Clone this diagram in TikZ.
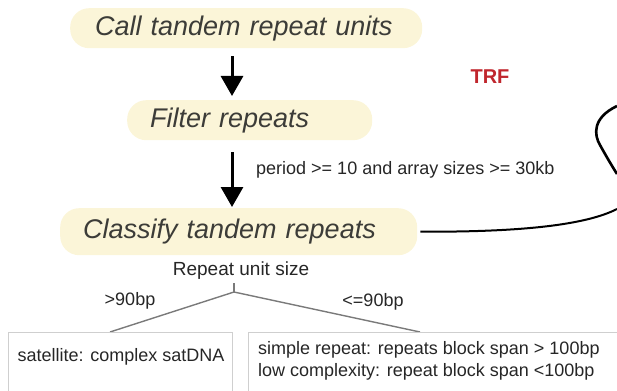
\documentclass[tikz,border=0pt]{standalone}
\usepackage{fontspec}
\setmainfont{Liberation Sans}
\usetikzlibrary{arrows.meta}
\definecolor{pillfill}{HTML}{FBF5D8}
\definecolor{pilltext}{HTML}{3C3C38}
\definecolor{trfred}{HTML}{C0262D}
\definecolor{treegray}{HTML}{7A7A7A}
\definecolor{boxgray}{HTML}{CFCFCF}
\tikzset{
  pill/.style={fill=pillfill, draw=none, rounded corners=19pt, inner xsep=0pt, inner ysep=0pt,
    align=left, text=pilltext, font=\fontsize{27}{30}\selectfont\itshape, anchor=north west},
  flowarrow/.style={line width=3pt, -{Triangle[width=22pt,length=20pt]}},
  small/.style={font=\fontsize{18}{22}\selectfont, text=black!85, inner sep=0pt},
  treeline/.style={draw=treegray, line width=1.4pt},
  resbox/.style={draw=boxgray, line width=1pt, anchor=north west, inner sep=0pt},
}
\begin{document}
\begin{tikzpicture}[x=1pt,y=-1pt]
\useasboundingbox (0,0) rectangle (617,390);
% pills
\node[pill, minimum width=352pt, minimum height=40pt, text width=352pt] (call) at (70,8) {\hspace*{25pt}Call tandem repeat units};
\node[pill, minimum width=245pt, minimum height=40pt, text width=245pt] (filter) at (127,100) {\hspace*{23pt}Filter repeats};
\node[pill, minimum width=357pt, minimum height=47pt, text width=357pt] (classify) at (60,208) {\hspace*{23pt}Classify tandem repeats};
% arrows
\coordinate (a1s) at (232,56);
\coordinate (a1e) at (232,96);
\draw[flowarrow] (call.south -| a1s) ++(0,8) -- (a1e);
\coordinate (a2e) at (232,207);
\draw[flowarrow] (filter.south -| a1s) ++(0,12) -- (a2e);
\node[small, anchor=west] (cond) at (256,170) {period >= 10 and array sizes >= 30kb};
% TRF
\node[font=\fontsize{20}{24}\selectfont\bfseries, text=trfred, inner sep=0pt] (trf) at (490,77) {TRF};
% connector to right
\coordinate (rightend) at (617,209);
\draw[line width=2pt] (classify.east) ++(3,0) coordinate (cst) -- (cst)
  .. controls (500,232) and (580,228) .. (rightend);
\draw[line width=2.6pt] (617,106) .. controls (592,118) and (594,135) .. (600,145)
  .. controls (606,156) and (612,166) .. (617,174);
% tree
\node[small, font=\fontsize{19}{22}\selectfont] (rus) at (241,271) {Repeat unit size};
\coordinate (apex) at (234,292);
\coordinate (lend) at (110,332);
\coordinate (rend) at (420,332);
\draw[treeline] (234,283) -- (apex);
\draw[treeline] (lend) -- (apex) -- (rend);
\node[small] (gt) at (130,301) {>90bp};
\node[small] (le) at (373,302) {<=90bp};
% result boxes
\node[resbox, minimum width=224pt, minimum height=70pt] (satbox) at (8,332) {};
\node[small] (sat) at (121,357) {satellite: complex satDNA};
\node[resbox, minimum width=380pt, minimum height=70pt] (simbox) at (248,332) {};
\node[small, anchor=north west, align=left, font=\fontsize{18}{22}\selectfont] (simtxt) at (258,341) {simple repeat: repeats block span > 100bp\\low complexity: repeat block span <100bp};
\end{tikzpicture}
\end{document}
